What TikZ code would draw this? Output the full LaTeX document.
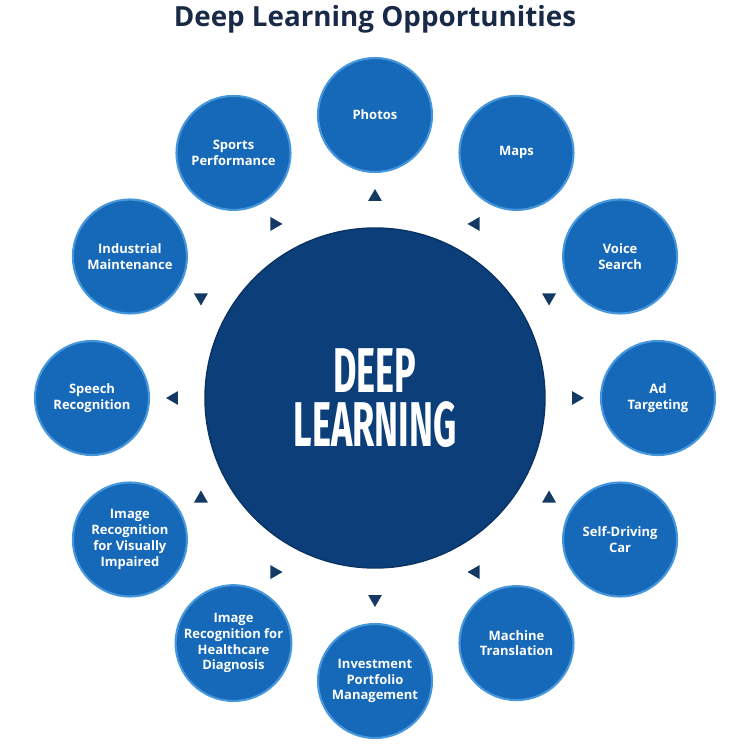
\documentclass[tikz,border=0pt]{standalone}
\usepackage{fontspec}
\setmainfont{Open Sans}
\newfontfamily\bigfont[FakeStretch=0.57]{Fira Sans}
\usetikzlibrary{shapes.geometric}
\definecolor{deepblue}{RGB}{12,62,122}
\definecolor{ringblue}{RGB}{22,104,184}
\definecolor{edgeblue}{RGB}{70,150,220}
\definecolor{tipblue}{RGB}{20,58,100}
\definecolor{titleblue}{RGB}{25,42,72}
\tikzset{
  bigcirc/.style={circle, fill=deepblue, draw=deepblue!80!black, line width=0.8pt,
    minimum size=6.8cm, inner sep=0pt, text=white, align=center,
    font=\bigfont\bfseries\fontsize{36}{31}\selectfont},
  smallcirc/.style={circle, fill=ringblue, draw=edgeblue, line width=1.2pt,
    minimum size=2.28cm, inner sep=0pt, text=white, align=center,
    font=\bfseries\fontsize{7.4}{9}\selectfont},
  tip/.style={regular polygon, regular polygon sides=3, fill=tipblue,
    minimum size=0.32cm, inner sep=0pt}
}
\begin{document}
\begin{tikzpicture}
\useasboundingbox (-7.5,-7.08) rectangle (7.5,7.96);
\node[font=\bfseries\fontsize{15.8}{17}\selectfont, text=titleblue] (title) at (0,7.58) {Deep Learning Opportunities};
\node[bigcirc] (deep) at (0,0) {DEEP\\LEARNING};
% outer ring and the small markers between
\foreach \a/\txt/\rot [count=\i] in {
  90/Photos/0, 60/Maps/90, 30/{Voice\\Search}/180, 0/{Ad\\Targeting}/-90,
  -30/{Self-Driving\\Car}/0, -60/{Machine\\Translation}/90,
  -90/{Investment\\Portfolio\\Management}/180,
  -120/{Image\\Recognition for\\Healthcare\\Diagnosis}/-90,
  -150/{Image\\Recognition\\for Visually\\Impaired}/0,
  180/{Speech\\Recognition}/90, 150/{Industrial\\Maintenance}/180,
  120/{Sports\\Performance}/-90} {
  \node[smallcirc] (c\i) at (\a:5.66) {\txt};
  \node[tip, rotate=\rot] (t\i) at (\a:4.02) {};
}
\end{tikzpicture}
\end{document}
